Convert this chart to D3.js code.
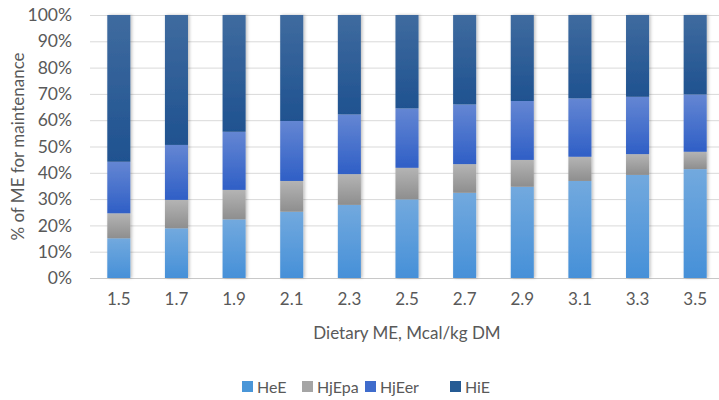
<!DOCTYPE html>
<html>
<head>
<meta charset="utf-8">
<script src="https://cdn.jsdelivr.net/npm/d3@7"></script>
<style>
  html, body { margin: 0; padding: 0; background: #fff; }
  svg { display: block; font-family: Lato, "Open Sans", "Liberation Sans", sans-serif; }
</style>
</head>
<body>
<svg id="chart" width="719" height="400"></svg>
<script>
// Dietary ME levels (Mcal/kg DM)
const categories = ["1.5", "1.7", "1.9", "2.1", "2.3", "2.5", "2.7", "2.9", "3.1", "3.3", "3.5"];

// Share of ME for maintenance (%) by component
const HeE   = [15.1, 18.9, 22.3, 25.2, 27.8, 29.9, 32.4, 34.7, 36.9, 39.2, 41.4];
const HjEpa = [ 9.5, 10.8, 11.2, 11.7, 11.7, 12.0, 10.9, 10.2,  9.2,  7.9,  6.6];
const HjEer = [19.6, 20.9, 22.1, 22.8, 22.7, 22.6, 22.7, 22.4, 22.2, 21.8, 21.8];
const HiE   = [55.8, 49.4, 44.4, 40.3, 37.8, 35.5, 34.0, 32.7, 31.7, 31.1, 30.2];

const seriesNames = ["HeE", "HjEpa", "HjEer", "HiE"];
const seriesValues = [HeE, HjEpa, HjEer, HiE];
const yTicks = [0, 10, 20, 30, 40, 50, 60, 70, 80, 90, 100];

const rows = categories.map((c, i) => {
  const r = { cat: c };
  seriesNames.forEach((s, k) => { r[s] = seriesValues[k][i]; });
  return r;
});

// colour ramps per series: top (lighter) -> bottom (darker)
const ramps = {
  HeE:   ["#72a9de", "#4690d8"],
  HjEpa: ["#b4b4b4", "#8e8e8e"],
  HjEer: ["#6486d3", "#2f5fc6"],
  HiE:   ["#3f6b9f", "#1f5290"]
};
const legendColors = { HeE: "#4a96d8", HjEpa: "#a5a5a5", HjEer: "#3f6ccc", HiE: "#255b94" };

const svg = d3.select("#chart");
const margin = { left: 90, right: -5, top: 15, bottom: 122 };
const W = 719, H = 400;
const textColor = "#595959";

const x = d3.scaleBand().domain(categories)
  .range([margin.left, W - margin.right]).paddingInner(0.6).paddingOuter(0.3);
const y = d3.scaleLinear().domain([0, 100]).range([H - margin.bottom, margin.top]);

const defs = svg.append("defs");
seriesNames.forEach(s => {
  const g = defs.append("linearGradient").attr("id", "grad-" + s)
    .attr("x1", 0).attr("y1", 0).attr("x2", 0).attr("y2", 1);
  g.append("stop").attr("offset", "0%").attr("stop-color", ramps[s][0]);
  g.append("stop").attr("offset", "100%").attr("stop-color", ramps[s][1]);
});
const shadow = defs.append("filter").attr("id", "shadow")
  .attr("x", "-30%").attr("y", "-5%").attr("width", "160%").attr("height", "110%");
shadow.append("feDropShadow").attr("dx", 1.5).attr("dy", 0).attr("stdDeviation", 1.5)
  .attr("flood-color", "#000").attr("flood-opacity", 0.25);

// gridlines
svg.append("g").selectAll("line").data(yTicks).join("line")
  .attr("x1", margin.left).attr("x2", W)
  .attr("y1", d => y(d) + 0.5).attr("y2", d => y(d) + 0.5)
  .attr("stroke", d => d === 0 ? "#c8c8c8" : "#d9d9d9").attr("stroke-width", 1);

// y axis labels
const yAxis = d3.axisLeft(y).tickValues(yTicks).tickFormat(d => d + "%").tickSize(0).tickPadding(0);
const gy = svg.append("g").attr("transform", `translate(${72},0)`).call(yAxis);
gy.select(".domain").remove();
gy.selectAll("text").attr("font-size", 17.5).attr("fill", textColor).attr("font-family", "Lato, 'Open Sans', sans-serif");

// x axis labels
const xAxis = d3.axisBottom(x).tickSize(0).tickPadding(0);
const gx = svg.append("g").attr("transform", `translate(0,${y(0) + 15})`).call(xAxis);
gx.select(".domain").remove();
gx.selectAll("text").attr("font-size", 17).attr("fill", textColor).attr("font-family", "Lato, 'Open Sans', sans-serif");

// stacked bars
const stack = d3.stack().keys(seriesNames)(rows);
const bars = svg.append("g").attr("filter", "url(#shadow)");
stack.forEach(layer => {
  bars.append("g").attr("fill", `url(#grad-${layer.key})`)
    .selectAll("rect").data(layer).join("rect")
    .attr("x", d => x(d.data.cat))
    .attr("width", x.bandwidth())
    .attr("y", d => y(d[1]))
    .attr("height", d => y(d[0]) - y(d[1]));
});

// axis titles
svg.append("text")
  .attr("x", (margin.left + W - margin.right) / 2).attr("y", 339)
  .attr("text-anchor", "middle").attr("font-size", 17).attr("fill", textColor)
  .text("Dietary ME, Mcal/kg DM");

svg.append("text")
  .attr("transform", `translate(24,${(y(0) + y(100)) / 2}) rotate(-90)`)
  .attr("text-anchor", "middle").attr("font-size", 17).attr("fill", textColor)
  .text("% of ME for maintenance");

// legend
const legendX = [242, 302, 365, 450];
const lg = svg.append("g");
seriesNames.forEach((s, i) => {
  const g = lg.append("g").attr("transform", `translate(${legendX[i]},387)`);
  g.append("rect").attr("x", 0).attr("y", -6).attr("width", 11).attr("height", 11)
    .attr("fill", legendColors[s]);
  g.append("text").attr("x", 15).attr("y", 0).attr("dy", "0.35em")
    .attr("font-size", 16).attr("fill", textColor).text(s);
});
</script>
</body>
</html>
